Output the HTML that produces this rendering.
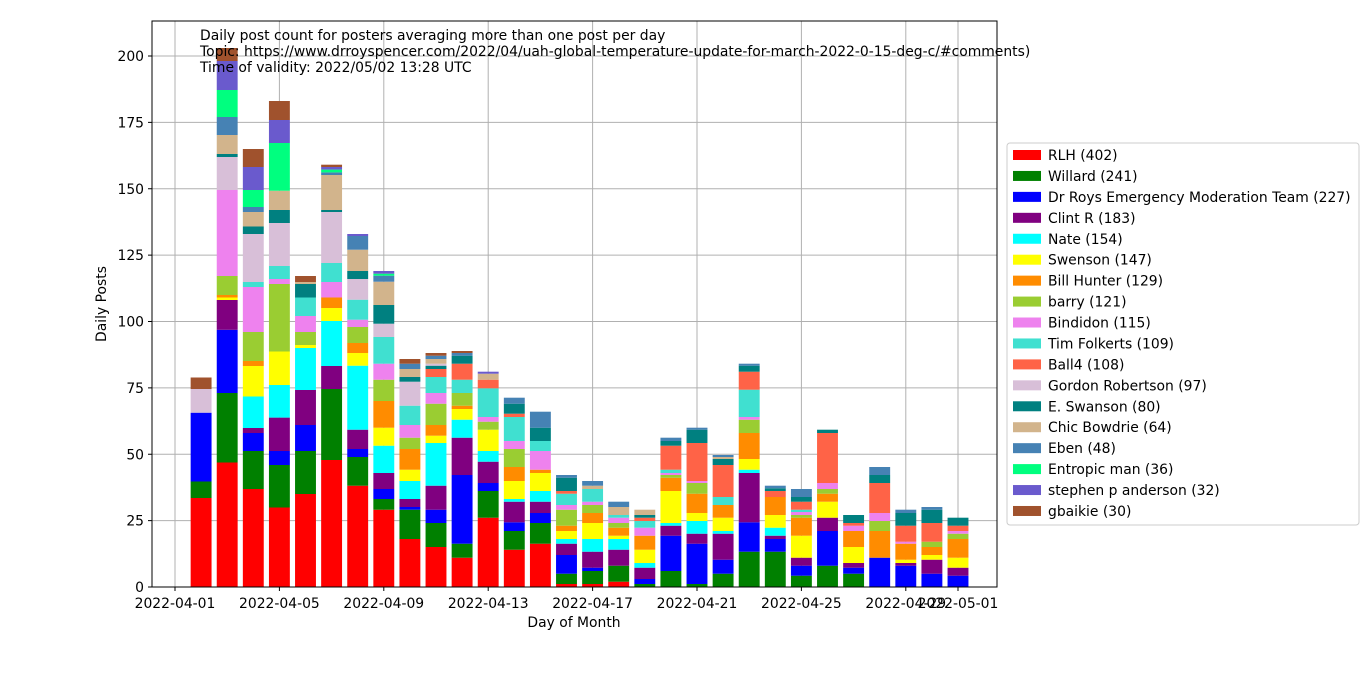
<!DOCTYPE html>
<html><head><meta charset="utf-8"><style>
body{margin:0;background:#fff;width:1366px;height:668px;overflow:hidden;font-family:"Liberation Sans","DejaVu Sans",sans-serif}
svg text{font-family:"DejaVu Sans","Liberation Sans",sans-serif}
</style></head><body>
<svg id="s" width="1366" height="668" xmlns="http://www.w3.org/2000/svg">
<rect x="0" y="0" width="1366" height="668" fill="#fff"/>
<g id="grid"></g>
<g id="bars"></g>
<rect x="152" y="21" width="845" height="566" fill="none" stroke="#000" stroke-width="1"/>
<g id="ticks" font-size="13.9"></g>
<text x="200" y="40" font-size="13.9">Daily post count for posters averaging more than one post per day</text>
<text x="200" y="56" font-size="13.9">Topic: https://www.drroyspencer.com/2022/04/uah-global-temperature-update-for-march-2022-0-15-deg-c/#comments)</text>
<text x="200" y="72" font-size="13.9">Time of validity: 2022/05/02 13:28 UTC</text>
<text x="574" y="627" font-size="13.9" text-anchor="middle">Day of Month</text>
<text transform="translate(106,304) rotate(-90)" font-size="13.9" text-anchor="middle">Daily Posts</text>
<rect x="1007" y="143" width="352" height="382" rx="3" fill="#fff" stroke="#ccc"/>
<g id="leg" font-size="13.9"></g>
</svg>
<script>
var C=["#ff0000","#008000","#0000ff","#800080","#00ffff","#ffff00","#ff8c00","#9acd32","#ee82ee","#40e0d0","#ff6347","#d8bfd8","#008080","#d2b48c","#4682b4","#00ff7f","#6a5acd","#a0522d"];
var N=["RLH (402)","Willard (241)","Dr Roys Emergency Moderation Team (227)","Clint R (183)","Nate (154)","Swenson (147)","Bill Hunter (129)","barry (121)","Bindidon (115)","Tim Folkerts (109)","Ball4 (108)","Gordon Robertson (97)","E. Swanson (80)","Chic Bowdrie (64)","Eben (48)","Entropic man (36)","stephen p anderson (32)","gbaikie (30)"];
var D=[
[[0,498],[1,481.5],[2,412.7],[11,389],[17,377.5]],
[[0,462.5],[1,393],[2,329.8],[3,300],[5,297.5],[6,295],[7,276],[8,190],[11,157],[12,154],[13,135],[14,117],[15,90],[16,61],[17,48]],
[[0,489],[1,451],[2,433],[3,428],[4,396.5],[5,366],[6,361],[7,332],[8,287],[9,282],[11,234],[12,226.5],[13,212],[14,207],[15,190],[16,167],[17,149]],
[[0,507.5],[1,465],[2,451],[3,417.6],[4,385],[5,351.5],[7,284],[8,279],[9,266],[11,223],[12,210],[13,190.7],[15,143],[16,120],[17,101]],
[[0,494],[1,451],[2,425],[3,390],[4,348],[5,345],[7,332],[8,316],[9,297.5],[12,284],[13,282],[17,276]],
[[0,460],[1,389],[3,366],[4,321],[5,308],[6,297.5],[8,282],[9,263],[11,212],[12,210],[13,175],[14,172.4],[15,169.6],[16,167],[17,164.7]],
[[0,485.7],[1,457],[2,449],[3,429.7],[4,365.7],[5,353],[6,343],[7,327],[8,319.7],[9,299.7],[11,279],[12,271],[13,249.7],[14,236],[16,234]],
[[0,509.7],[1,499],[2,489],[3,473],[4,445.7],[5,427.7],[6,401],[7,379.7],[8,363.7],[9,337],[11,323.7],[12,305],[13,281.7],[14,275.7],[15,273.7],[16,271]],
[[0,539],[1,509.7],[2,507],[3,499],[4,481],[5,469.7],[6,449],[7,437.7],[8,425],[9,405.7],[11,381.7],[12,377],[13,369],[14,363.7],[17,359]],
[[0,547],[1,523],[2,509.7],[3,485.7],[4,443],[5,435.7],[6,425],[7,403.7],[8,393],[9,377],[10,369],[12,365.7],[11,363.7],[13,359],[14,355.7],[17,353]],
[[0,557.7],[1,543.7],[2,475],[3,437.7],[4,419.7],[5,409],[6,405.7],[7,393],[9,379.7],[10,363.7],[12,355.7],[14,353],[17,351]],
[[0,517.7],[1,491],[2,483],[3,461.7],[4,451],[5,429.7],[7,421.7],[8,417],[9,388.3],[10,379.7],[13,373.7],[16,371.7]],
[[0,549.7],[1,531],[2,522.3],[3,501.7],[4,499],[5,481],[6,467],[7,449],[8,441],[9,417],[10,413.7],[12,403.7],[14,397.7]],
[[0,543.7],[1,523],[2,513],[3,501.7],[4,491],[5,473],[6,469.7],[8,451],[9,441],[12,427.7],[14,411.7]],
[[0,584],[1,573.7],[2,555],[3,543.7],[4,539],[5,531],[6,525.7],[7,509.7],[8,505],[9,493.7],[10,491],[12,477.7],[14,475]],
[[0,584],[1,571],[2,567.7],[3,551.7],[4,539],[5,523],[6,513],[7,505],[8,501.7],[9,489],[13,485.7],[14,481]],
[[0,581.7],[1,565.7],[3,549.7],[4,539],[5,535.7],[6,527.7],[7,523],[8,517.7],[9,515],[13,507],[14,501.7]],
[[1,584],[2,579],[3,567.7],[4,563],[5,549.7],[6,535.7],[8,527.7],[9,521],[10,517.7],[12,515],[13,509.7]],
[[1,571],[2,535.7],[3,525.7],[4,523],[5,491],[6,477.7],[7,475],[8,473],[9,469.7],[10,445.7],[12,441],[14,437.7]],
[[1,584],[2,543.7],[3,533.7],[4,521],[5,513],[6,493.7],[7,483],[8,481],[10,443],[12,429.7],[14,427.7]],
[[1,573.7],[2,559.7],[3,533.7],[4,531],[5,517.7],[6,505],[9,497],[10,465],[12,459],[13,457],[14,455]],
[[1,551.7],[2,522.3],[3,473],[4,469.7],[5,459],[6,433],[7,419.7],[8,417],[9,389.7],[10,371.7],[12,365.7],[14,363.7]],
[[1,551.7],[2,539],[3,535.7],[4,527.7],[5,515],[6,497],[10,491],[12,488.3],[14,485.7]],
[[1,575.7],[2,565.7],[3,557.7],[5,535.7],[6,517.7],[7,515],[8,512],[9,509.7],[10,501.7],[12,497],[14,489]],
[[1,565.7],[2,531],[3,517.7],[5,501.7],[6,493.7],[7,489],[8,483],[10,433],[12,429.7]],
[[1,573.7],[2,567.7],[3,563],[5,547],[6,531],[8,525.7],[10,523],[12,515]],
[[2,557.7],[6,531],[7,521],[8,513],[10,483],[12,475],[14,467]],
[[2,565.7],[3,563],[5,559.7],[6,543.7],[8,541.7],[10,525.7],[12,513],[14,509.7]],
[[2,573.7],[3,559.7],[5,555],[6,547],[7,541.7],[10,523],[12,509.7],[14,507]],
[[2,575.7],[3,567.7],[5,557.7],[6,539],[7,533.7],[8,531],[10,525.7],[12,517.7]]
];
var NS="http://www.w3.org/2000/svg";
function el(p,t,a,txt){var e=document.createElementNS(NS,t);for(var k in a)e.setAttribute(k,a[k]);if(txt!=null)e.textContent=txt;p.appendChild(e);return e;}
var g=document.getElementById("grid"),b=document.getElementById("bars"),tk=document.getElementById("ticks"),lg=document.getElementById("leg");
for(var v=0;v<=200;v+=25){var y=587-v*2.655;if(v>0)el(g,"line",{x1:152,x2:997,y1:y,y2:y,stroke:"#b0b0b0","stroke-width":1});
el(tk,"line",{x1:148,x2:152,y1:y,y2:y,stroke:"#000"});el(tk,"text",{x:144,y:y+5,"text-anchor":"end"},String(v));}
var xd=[[0,"2022-04-01"],[4,"2022-04-05"],[8,"2022-04-09"],[12,"2022-04-13"],[16,"2022-04-17"],[20,"2022-04-21"],[24,"2022-04-25"],[28,"2022-04-29"],[30,"2022-05-01"]];
xd.forEach(function(d){var x=175+d[0]*26.1;el(g,"line",{x1:x,x2:x,y1:21,y2:587,stroke:"#b0b0b0","stroke-width":1});
el(tk,"line",{x1:x,x2:x,y1:587,y2:591,stroke:"#000"});el(tk,"text",{x:x,y:608,"text-anchor":"middle"},d[1]);});
D.forEach(function(bar,i){var cx=175+(i+1)*26.1,x=cx-10.45,bot=587;
bar.forEach(function(s){var top=s[1];el(b,"rect",{x:x,y:top,width:20.9,height:Math.max(0,bot-top),fill:C[s[0]]});bot=top;});});
for(var i=0;i<18;i++){var y=155+i*20.94;el(lg,"rect",{x:1013,y:y-5,width:28,height:10,fill:C[i]});el(lg,"text",{x:1048,y:y+5},N[i]);}
</script>
</body></html>
